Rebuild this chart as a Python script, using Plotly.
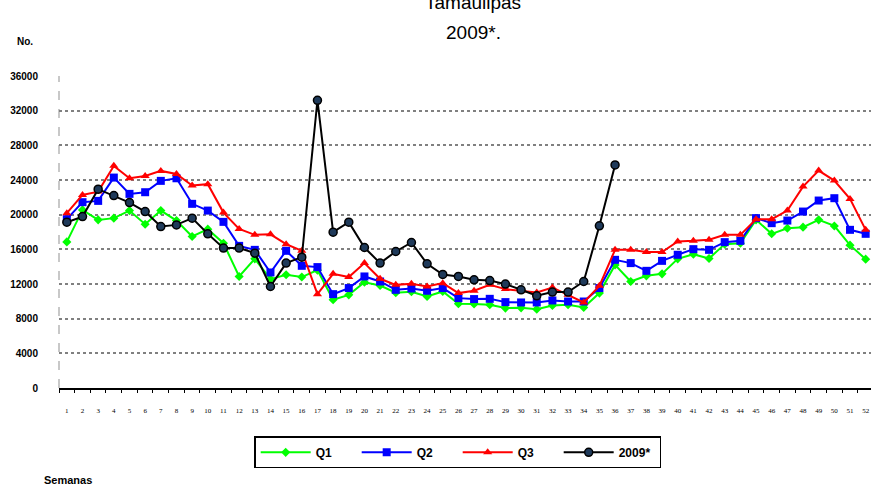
import plotly.graph_objects as go

weeks = list(range(1, 53))

q1 = [16860, 20550, 19400, 19600, 20470, 18900, 20470, 19320, 17480, 18330,
      16710, 12870, 14900, 12560, 13060, 12800, 13600, 10180, 10750, 12200,
      11830, 11000, 11100, 10560, 11140, 9720, 9700, 9600, 9220, 9250,
      9100, 9520, 9600, 9290, 10950, 14200, 12290, 12940, 13170, 14900,
      15440, 14940, 16600, 16700, 19400, 17790, 18440, 18560, 19400, 18700,
      16480, 14870]

q2 = [19480, 21440, 21590, 24280, 22400, 22590, 23900, 24200, 21250, 20470,
      19170, 16400, 15940, 13330, 15830, 14100, 13950, 10830, 11530, 12870,
      12290, 11330, 11480, 11220, 11530, 10370, 10260, 10290, 9910, 9870,
      9870, 10100, 9980, 9980, 11530, 14790, 14410, 13520, 14670, 15370,
      16020, 15940, 16830, 16980, 19600, 19020, 19320, 20360, 21630, 21900,
      18250, 17790]

q3 = [20170, 22280, 22660, 25630, 24200, 24470, 25050, 24700, 23360, 23520,
      20240, 18360, 17670, 17730, 16600, 15830, 10830, 13180, 12800, 14410,
      12600, 11900, 12020, 11710, 12100, 10950, 11220, 11900, 11410, 11220,
      11020, 11600, 10750, 9870, 11790, 15940, 15940, 15680, 15680, 16900,
      16980, 17100, 17670, 17670, 19480, 19480, 20470, 23240, 25090, 23930,
      21820, 18250]

y2009 = [19130, 19780, 22940, 22200, 21400, 20360, 18630, 18820, 19600, 17790,
         16140, 16140, 15560, 11710, 14410, 15100, 33200, 17980, 19130, 16210,
         14410, 15750, 16790, 14330, 13100, 12870, 12480, 12400, 11990, 11330,
         10640, 11070, 11070, 12290, 18710, 25740]

y_ticks = [0, 4000, 8000, 12000, 16000, 20000, 24000, 28000, 32000, 36000]

fig = go.Figure()
fig.add_trace(go.Scatter(x=weeks, y=q1, name="Q1", mode="lines+markers",
                         line=dict(color="#00FF00", width=2),
                         marker=dict(symbol="diamond", size=7, color="#00FF00")))
fig.add_trace(go.Scatter(x=weeks, y=q2, name="Q2", mode="lines+markers",
                         line=dict(color="#0000FF", width=2),
                         marker=dict(symbol="square", size=8, color="#0000FF")))
fig.add_trace(go.Scatter(x=weeks, y=q3, name="Q3", mode="lines+markers",
                         line=dict(color="#FF0000", width=2),
                         marker=dict(symbol="triangle-up", size=8, color="#FF0000")))
fig.add_trace(go.Scatter(x=weeks[:len(y2009)], y=y2009, name="2009*", mode="lines+markers",
                         line=dict(color="#000000", width=2),
                         marker=dict(symbol="circle", size=8, color="#1F3A5A",
                                     line=dict(color="#000000", width=1.5))))

fig.update_layout(
    width=871, height=486,
    margin=dict(l=59, r=0, t=76, b=98, autoexpand=False),
    paper_bgcolor="white", plot_bgcolor="white",
    font=dict(family="Liberation Sans, Arial", color="black"),
    showlegend=True,
    legend=dict(orientation="h", x=0.491, xanchor="center", y=-0.155, yanchor="top",
                bordercolor="black", borderwidth=1.5,
                font=dict(size=12, family="Liberation Sans, Arial", weight="bold", color="black"),
                entrywidth=36, entrywidthmode="pixels", itemwidth=50,
                traceorder="normal"),
)

fig.update_xaxes(
    range=[0.5, 52.34], tickmode="array", tickvals=weeks,
    ticktext=[str(w) for w in weeks],
    tickfont=dict(family="Liberation Serif, Times New Roman", size=7, color="black"),
    ticks="", ticklabelstandoff=15, automargin=False,
    minor=dict(ticks="outside", tick0=0.5, dtick=1, ticklen=3, tickcolor="black", showgrid=False),
    showline=True, linecolor="black", linewidth=2,
    showgrid=False, zeroline=False,
)
fig.update_yaxes(
    range=[0, 36000], tickmode="array", tickvals=y_ticks,
    ticktext=[str(v) for v in y_ticks],
    tickfont=dict(family="Liberation Sans, Arial", size=10, weight="bold", color="black"),
    ticks="", ticklabelstandoff=20, automargin=False,
    showgrid=True, gridcolor="#808080", griddash="dot", gridwidth=1.5,
    showline=False, zeroline=False,
)

fig.add_shape(type="line", xref="paper", yref="paper", x0=0, x1=0, y0=0, y1=1,
              line=dict(color="#C8C8C8", width=2, dash="dash"), layer="below")

fig.add_annotation(text="Tamaulipas", xref="paper", yref="paper",
                   x=0.51, y=1.236, xanchor="center", yanchor="middle",
                   showarrow=False, font=dict(size=19, family="Liberation Sans, Arial"))
fig.add_annotation(text="2009*.", xref="paper", yref="paper",
                   x=0.51, y=1.14, xanchor="center", yanchor="middle",
                   showarrow=False, font=dict(size=19, family="Liberation Sans, Arial"))
fig.add_annotation(text="No.", xref="paper", yref="paper",
                   x=-0.042, y=1.11, xanchor="center", yanchor="middle",
                   showarrow=False, font=dict(size=10, family="Liberation Sans, Arial", weight="bold"))
fig.add_annotation(text="Semanas", xref="paper", yref="paper",
                   x=0.011, y=-0.295, xanchor="center", yanchor="middle",
                   showarrow=False, font=dict(size=11, family="Liberation Sans, Arial", weight="bold"))

fig.write_html("out.html", config={"displayModeBar": False},
               post_script="document.body.style.margin='0';document.body.style.overflow='hidden';")
